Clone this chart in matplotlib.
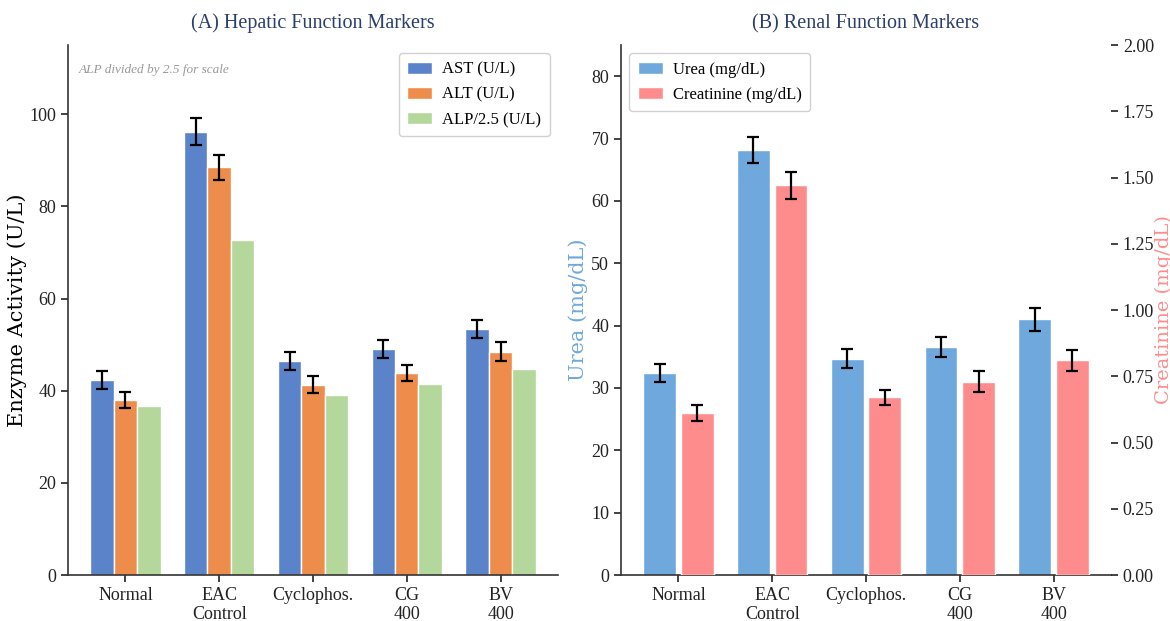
import numpy as np
import matplotlib
matplotlib.use("Agg")
import matplotlib.pyplot as plt
from matplotlib import font_manager as fm

# the reference text is a narrow serif; use condensed DejaVu if present, else Liberation Serif
names = {f.name for f in fm.fontManager.ttflist}
NARROW = "DejaVu Serif Condensed" if "DejaVu Serif Condensed" in names else "Liberation Serif"
plt.rcParams["font.family"] = [NARROW, "DejaVu Serif"]
WIDE = ["DejaVu Serif"]          # rotated axis labels look like plain DejaVu Serif

# === Data ===
groups = ["Normal", "EAC\nControl", "Cyclophos.", "CG\n400", "BV\n400"]

ast = [42.3, 96.2, 46.5, 49.1, 53.4]
ast_err = [2.0, 3.0, 2.0, 2.0, 2.0]
alt = [38.0, 88.5, 41.3, 43.8, 48.5]
alt_err = [1.7, 2.7, 1.8, 1.8, 2.0]
alp_scaled = [36.7, 72.8, 39.0, 41.4, 44.7]

urea = [32.4, 68.2, 34.7, 36.6, 41.0]
urea_err = [1.5, 2.1, 1.5, 1.6, 1.8]
creat = [0.61, 1.47, 0.67, 0.73, 0.81]
creat_err = [0.03, 0.05, 0.03, 0.04, 0.04]

# === Styling ===
C_AST = "#5b83ca"
C_ALT = "#ee8c4b"
C_ALP = "#b4d79c"
C_UREA = "#6fa8dc"
C_CREAT = "#ff8c8c"
TITLE_C = "#2b3f6b"
SPINE_C = "#333333"

fig = plt.figure(figsize=(11.70, 6.21), dpi=100)
ax1 = fig.add_axes([0.0581, 0.074, 0.4188, 0.8535])
ax2 = fig.add_axes([0.5308, 0.074, 0.4188, 0.8535])

x = np.arange(len(groups))
err_kw = dict(ecolor="black", capsize=4.5, elinewidth=1.6, capthick=1.6)
leg_kw = dict(fontsize=12, framealpha=0.9, edgecolor="#cccccc", borderpad=0.5,
              handlelength=1.5, handletextpad=0.6, labelspacing=0.55)

# --- (A) Hepatic ---
w = 0.25
ax1.bar(x - w, ast, w, yerr=ast_err, color=C_AST, edgecolor="white", linewidth=1,
        label="AST (U/L)", error_kw=err_kw)
ax1.bar(x, alt, w, yerr=alt_err, color=C_ALT, edgecolor="white", linewidth=1,
        label="ALT (U/L)", error_kw=err_kw)
ax1.bar(x + w, alp_scaled, w, color=C_ALP, edgecolor="white", linewidth=1,
        label="ALP/2.5 (U/L)")
ax1.set_ylim(0, 115)
ax1.set_yticks([0, 20, 40, 60, 80, 100])
ax1.set_xticks(x)
ax1.set_xticklabels(groups)
ax1.set_ylabel("Enzyme Activity (U/L)", fontsize=15, family=WIDE, labelpad=2)
ax1.set_title("(A) Hepatic Function Markers", fontsize=14.5, color=TITLE_C, pad=12)
ax1.text(0.022, 0.965, "ALP divided by 2.5 for scale", transform=ax1.transAxes,
         fontsize=9.5, style="italic", color="#999999", va="top")
ax1.legend(loc="upper right", **leg_kw)

# --- (B) Renal ---
w2 = 0.35
ax2.bar(x - 0.2, urea, w2, yerr=urea_err, color=C_UREA, edgecolor="white", linewidth=1,
        label="Urea (mg/dL)", error_kw=err_kw)
ax2.set_ylim(0, 85)
ax2.set_yticks(np.arange(0, 81, 10))
ax2.set_xticks(x)
ax2.set_xticklabels(groups)
ax2.set_ylabel("Urea (mg/dL)", fontsize=15, family=WIDE, color=C_UREA, labelpad=2)
ax2.set_title("(B) Renal Function Markers", fontsize=14.5, color=TITLE_C, pad=12)

ax3 = ax2.twinx()
ax3.bar(x + 0.2, creat, w2, yerr=creat_err, color=C_CREAT, edgecolor="white", linewidth=1,
        label="Creatinine (mg/dL)", error_kw=err_kw)
ax3.set_ylim(0, 2.0)
ax3.set_yticks(np.arange(0, 2.01, 0.25))
ax3.set_yticklabels([f"{v:.2f}" for v in np.arange(0, 2.01, 0.25)])
ax3.set_ylabel("Creatinine (mg/dL)", fontsize=14, family=WIDE, color=C_CREAT, labelpad=0)

h1, l1 = ax2.get_legend_handles_labels()
h2, l2 = ax3.get_legend_handles_labels()
ax2.legend(h1 + h2, l1 + l2, loc="upper left", **leg_kw)

for ax in (ax1, ax2, ax3):
    ax.spines["top"].set_visible(False)
    ax.spines["right"].set_visible(False)
    for s in ("left", "bottom"):
        ax.spines[s].set_color(SPINE_C)
        ax.spines[s].set_linewidth(1.2)
    ax.tick_params(labelsize=13, colors="#222222", length=5, width=1.2)
ax3.spines["left"].set_visible(False)
ax3.spines["bottom"].set_visible(False)

fig.savefig("out.png", dpi=100)
